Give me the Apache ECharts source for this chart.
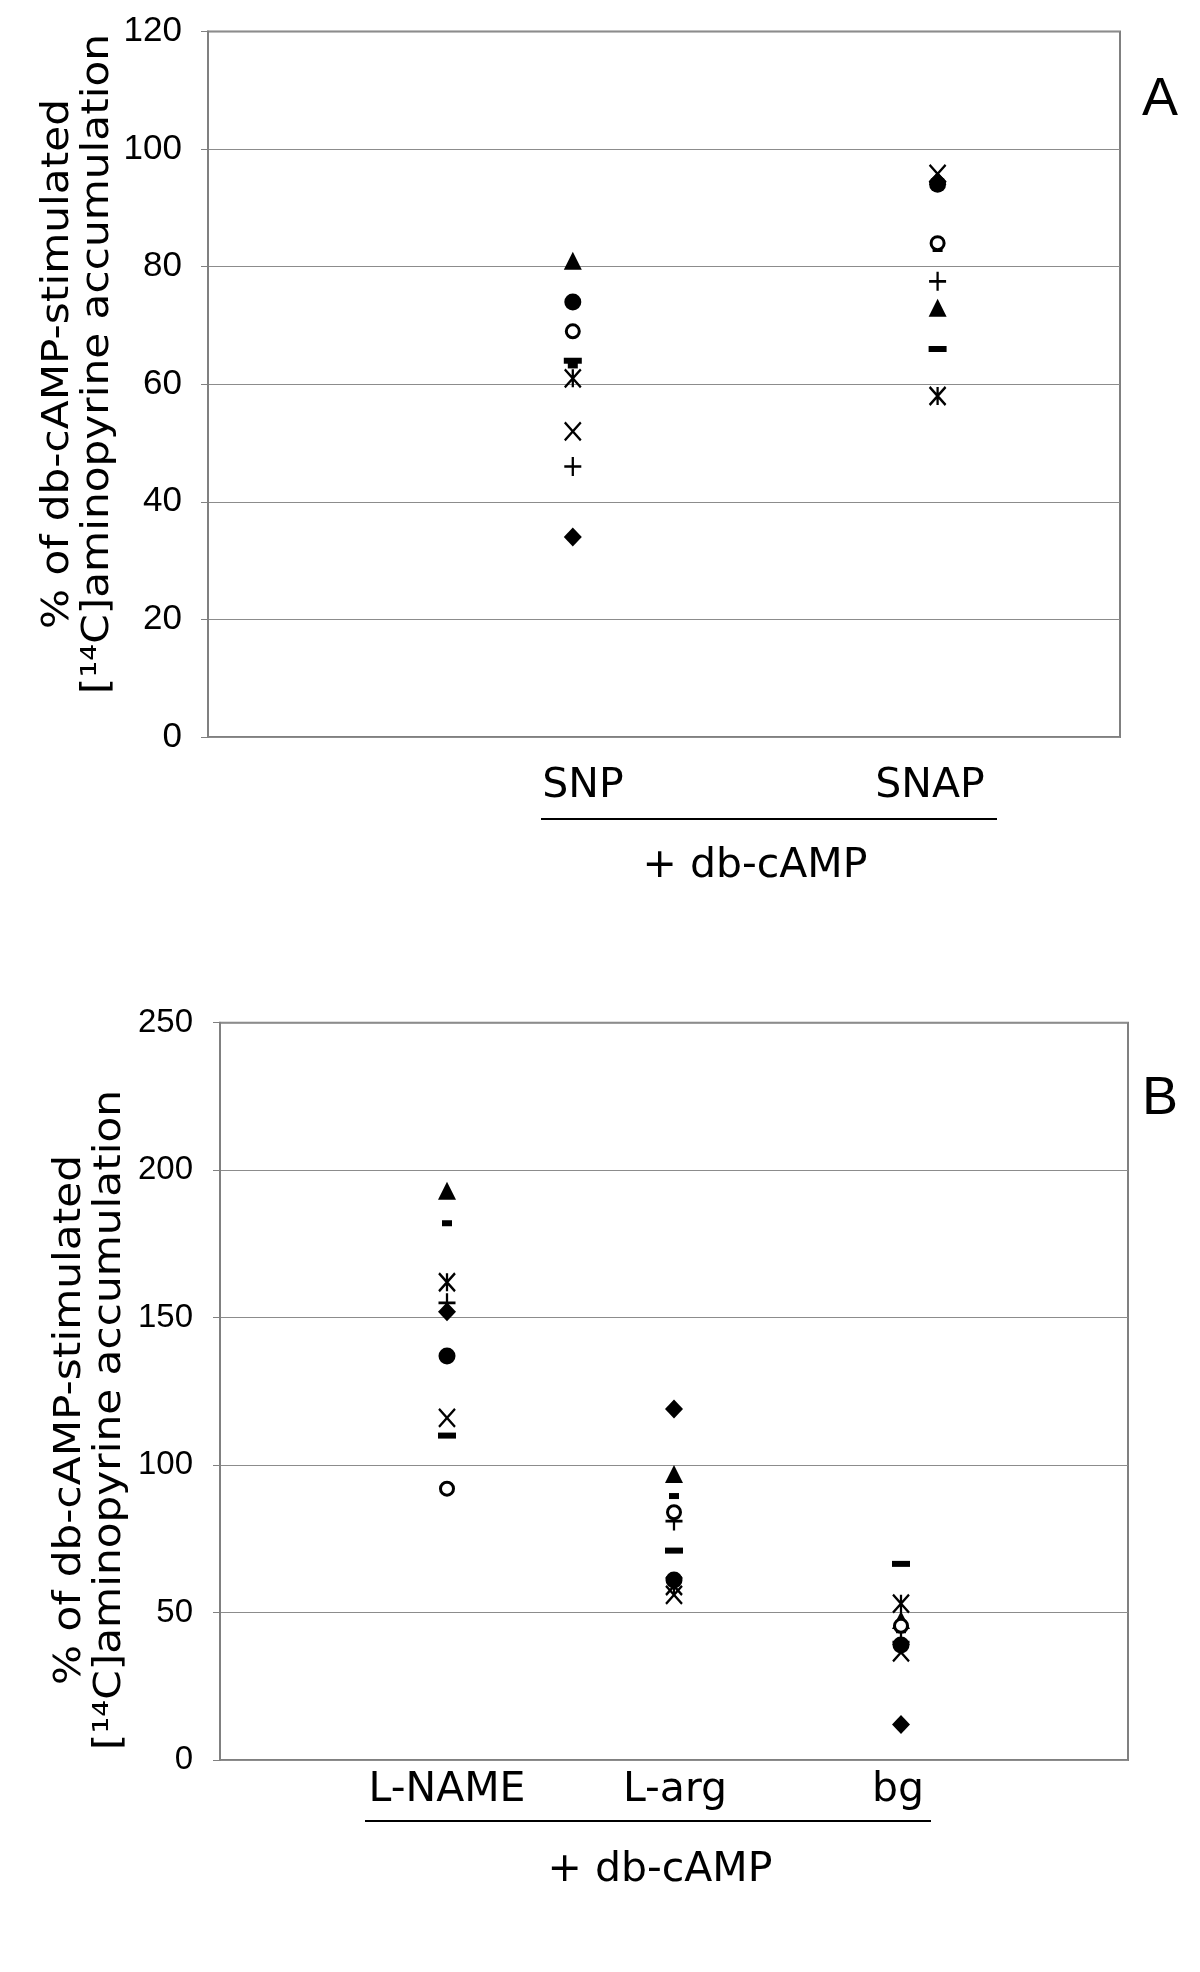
<!DOCTYPE html>
<html><head><meta charset="utf-8">
<script src="https://cdn.jsdelivr.net/npm/echarts@6/dist/echarts.min.js"></script>
<style>html,body{margin:0;padding:0;background:#fff}#c{width:1200px;height:1972px}</style>
</head><body><div id="c"></div>
<script>
// ---------- Panel A data ----------
const catsA = ['SNP', 'SNAP'];
const catPosA = [1, 2];
const diamondA    = [34, 94.5];
const triangleA   = [81, 73];
const crossA      = [52, 95.8];
const starA       = [61, 58];
const circleA     = [74, 94];
const plusA       = [46, 77.5];
const shortDashA  = [63.2, 83];
const longDashA   = [64, 66];
const openCircleA = [69, 84];
const yTicksA = [0, 20, 40, 60, 80, 100, 120];

// ---------- Panel B data ----------
const catsB = ['L-NAME', 'L-arg', 'bg'];
const catPosB = [1, 2, 3];
const diamondB    = [152, 119, 12];
const triangleB   = [193, 97, 47.5];
const crossB      = [116, 56, 36.5];
const starB       = [162, 59, 53];
const circleB     = [137, 61, 39];
const plusB       = [155, 81, 40];
const shortDashB  = [182, 89.5, 44];
const longDashB   = [110, 71, 66.5];
const openCircleB = [92, 84, 45.5];
const yTicksB = [0, 50, 100, 150, 200, 250];

const groupLabel = '+ db-cAMP';
const yTitle = '% of db-cAMP-stimulated\n[¹⁴C]aminopyrine accumulation';
const panelLetters = ['A', 'B'];

// ---------- marker styles ----------
const X_PATH = 'path://M0,0L10,10M10,0L0,10';
const PLUS_PATH = 'path://M5,0L5,10M0,5L10,5';
const STAR_PATH = 'path://M0,0L10,10M10,0L0,10M5,0L5,10';
const markerStyles = [
  { name: 'diamond', symbol: 'diamond', size: [18, 19], item: { color: '#000' } },
  { name: 'triangle', symbol: 'triangle', size: [18, 18], item: { color: '#000' } },
  { name: 'x', symbol: X_PATH, size: [16, 18], item: { color: '#000', borderColor: '#000', borderWidth: 2.4 } },
  { name: 'star', symbol: STAR_PATH, size: [16, 18], item: { color: '#000', borderColor: '#000', borderWidth: 2.4 } },
  { name: 'circle', symbol: 'circle', size: 17, item: { color: '#000' } },
  { name: 'plus', symbol: PLUS_PATH, size: [17, 19], item: { color: '#000', borderColor: '#000', borderWidth: 2.4 } },
  { name: 'shortDash', symbol: 'rect', size: [10, 6], item: { color: '#000' } },
  { name: 'longDash', symbol: 'rect', size: [18, 6], item: { color: '#000' } },
  { name: 'openCircle', symbol: 'circle', size: 13, item: { color: '#fff', borderColor: '#000', borderWidth: 3 } }
];
const arraysA = [diamondA, triangleA, crossA, starA, circleA, plusA, shortDashA, longDashA, openCircleA];
const arraysB = [diamondB, triangleB, crossB, starB, circleB, plusB, shortDashB, longDashB, openCircleB];

function buildSeries(idx, pos, arrays) {
  return markerStyles.map((m, k) => ({
    type: 'scatter', name: m.name + idx,
    xAxisIndex: idx, yAxisIndex: idx,
    symbol: m.symbol, symbolSize: m.size,
    itemStyle: Object.assign({ opacity: 1 }, m.item),
    silent: true,
    data: pos.map((p, i) => [p, arrays[k][i]]).filter(d => d[1] != null)
  }));
}

const chart = echarts.init(document.getElementById('c'), null, { renderer: 'canvas' });

const gridCommon = { show: true, borderColor: '#808080', borderWidth: 2, backgroundColor: 'rgba(0,0,0,0)' };
function yAxisDef(idx, ticks, margin, fs) {
  return {
    type: 'value', gridIndex: idx,
    min: ticks[0], max: ticks[ticks.length - 1], interval: ticks[1] - ticks[0],
    axisLine: { show: true, lineStyle: { color: '#808080', width: 2 } },
    axisTick: { show: true, inside: false, length: 7, lineStyle: { color: '#808080', width: 1 } },
    axisLabel: { fontFamily: 'Liberation Sans', fontSize: fs, color: '#000', margin: margin },
    splitLine: { show: true, lineStyle: { color: '#8c8c8c', width: 1 } }
  };
}
function xAxisDef(idx, maxV) {
  return {
    type: 'value', gridIndex: idx, min: 0, max: maxV,
    axisLine: { show: false }, axisTick: { show: false },
    axisLabel: { show: false }, splitLine: { show: false }
  };
}

const textFont = 'DejaVu Sans';
function txt(x, y, s, size, fam) {
  return { type: 'text', x: x, y: y, silent: true,
    style: { text: s, x: 0, y: 0, align: 'center', verticalAlign: 'middle',
      fontFamily: fam || textFont, fontSize: size, fill: '#000' } };
}
function hline(x1, x2, y) {
  return { type: 'line', silent: true, shape: { x1: x1, y1: y, x2: x2, y2: y },
    style: { stroke: '#000', lineWidth: 2 } };
}
function vtitle(x, y) {
  return { type: 'text', x: x, y: y, rotation: Math.PI / 2, scaleX: 1.03, scaleY: 0.92, silent: true,
    style: { text: yTitle, x: 0, y: 0, align: 'center', verticalAlign: 'middle',
      fontFamily: textFont, fontSize: 41, lineHeight: 44, fill: '#000' } };
}

const posLabelsA = [[583, 786], [930, 786]];
const posLabelsB = [[447, 1790], [675, 1790], [898, 1790]];

const graphics = [
  vtitle(78, 364),
  vtitle(90, 1420),
  txt(1160, 100, panelLetters[0], 54, 'Liberation Sans'),
  txt(1160, 1099, panelLetters[1], 54, 'Liberation Sans'),
  hline(541, 997, 819),
  txt(755, 866, groupLabel, 41),
  hline(365, 931, 1821),
  txt(660, 1870, groupLabel, 41)
];
catsA.forEach((c, i) => graphics.push(txt(posLabelsA[i][0], posLabelsA[i][1], c, 41)));
catsB.forEach((c, i) => graphics.push(txt(posLabelsB[i][0], posLabelsB[i][1], c, 41)));

chart.setOption({
  animation: false,
  backgroundColor: '#fff',
  grid: [
    Object.assign({ left: 208, top: 31.5, width: 912, height: 705.5 }, gridCommon),
    Object.assign({ left: 220, top: 1022.7, width: 908, height: 737.3 }, gridCommon)
  ],
  xAxis: [xAxisDef(0, 2.5), xAxisDef(1, 4)],
  yAxis: [yAxisDef(0, yTicksA, 26, 35), yAxisDef(1, yTicksB, 27, 33)],
  series: buildSeries(0, catPosA, arraysA).concat(buildSeries(1, catPosB, arraysB)),
  graphic: graphics
});
</script>
</body></html>
